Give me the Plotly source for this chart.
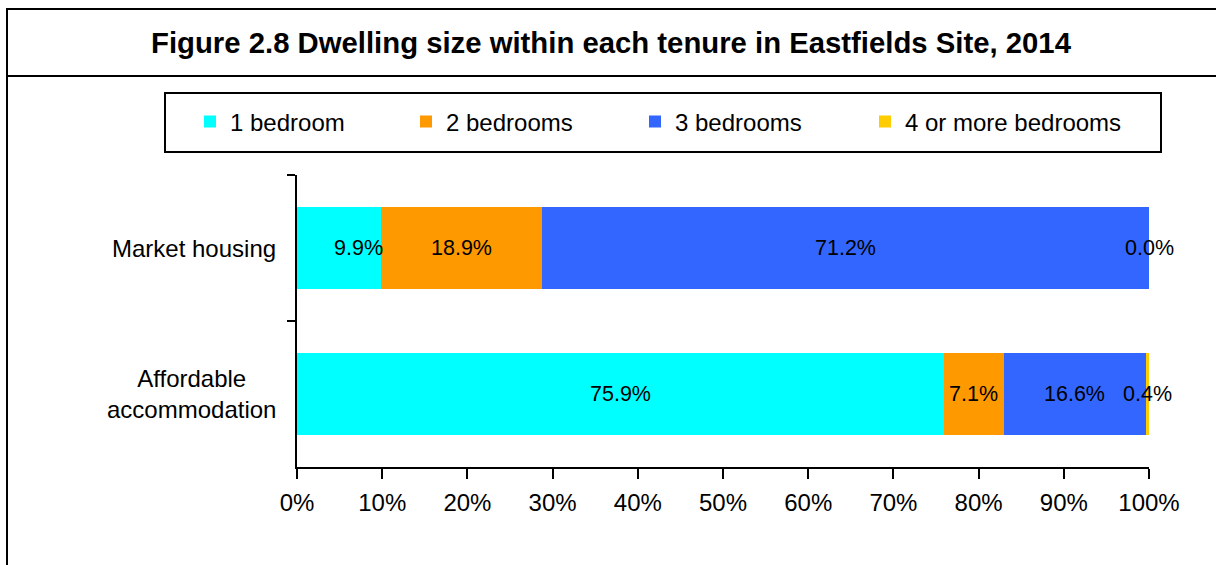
import plotly.graph_objects as go

categories = ["Market housing", "Affordable<br>accommodation"]
series_names = ["1 bedroom", "2 bedrooms", "3 bedrooms", "4 or more bedrooms"]
one_bed = [9.9, 75.9]
two_bed = [18.9, 7.1]
three_bed = [71.2, 16.6]
four_bed = [0.0, 0.4]
colors = ["#00FFFF", "#FF9900", "#3366FF", "#FFCC00"]
tick_vals = [0, 10, 20, 30, 40, 50, 60, 70, 80, 90, 100]
tick_text = ["0%", "10%", "20%", "30%", "40%", "50%", "60%", "70%", "80%", "90%", "100%"]
title_text = "Figure 2.8 Dwelling size within each tenure in Eastfields Site, 2014"

FONT = "Liberation Sans, Arial, sans-serif"
series = [one_bed, two_bed, three_bed, four_bed]

# plot area in pixels
L, R, T, B = 297, 1149, 175, 467
W, H = R - L, B - T
px = lambda x: (x - L) / W
py = lambda y: (B - y) / H

legend_ids = ["legend2", "legend3", "legend4", "legend5"]
legend_x = [190, 406, 635, 865]

fig = go.Figure()
for name, vals, col, lid in zip(series_names, series, colors, legend_ids):
    fig.add_trace(go.Bar(
        y=categories, x=vals, name=name, orientation="h",
        marker=dict(color=col, line=dict(width=0)),
        hoverinfo="x+name", legend=lid, showlegend=True,
    ))

annotations = []
# data labels
for ci, cat in enumerate(categories):
    cum = 0
    for si, vals in enumerate(series):
        v = vals[ci]
        center = cum + v / 2
        cum += v
        xshift = 0
        if si == 0 and v < 15:
            xshift = 19
        annotations.append(dict(
            x=center, y=cat, xref="x", yref="y", text=f"{v:.1f}%",
            showarrow=False, xshift=xshift,
            font=dict(family=FONT, size=21.5, color="#000000"),
        ))
# category labels
for cat in categories:
    annotations.append(dict(
        x=0, y=cat, xref="paper", yref="y", text=cat, showarrow=False,
        xanchor="right", align="center", xshift=-19,
        font=dict(family=FONT, size=24, color="#000000"),
    ))

shapes = [
    # outer frame
    dict(type="rect", xref="paper", yref="paper", x0=px(7), x1=px(1225), y0=py(575), y1=py(9),
         line=dict(color="#000000", width=2), fillcolor="rgba(0,0,0,0)", layer="below"),
    # title separator
    dict(type="line", xref="paper", yref="paper", x0=px(7), x1=px(1225), y0=py(76), y1=py(76),
         line=dict(color="#000000", width=2)),
    # legend box
    dict(type="rect", xref="paper", yref="paper", x0=px(165), x1=px(1161), y0=py(152), y1=py(93),
         line=dict(color="#000000", width=2), fillcolor="rgba(0,0,0,0)"),
]

legends = {}
for lid, lx in zip(legend_ids, legend_x):
    legends[lid] = dict(orientation="h", x=px(lx), xanchor="left", y=py(122), yanchor="middle",
                        font=dict(family=FONT, size=24, color="#000000"),
                        bgcolor="rgba(0,0,0,0)", borderwidth=0)

fig.update_layout(
    width=1216, height=565,
    margin=dict(l=L, r=1216 - R, t=T, b=565 - B, pad=0),
    paper_bgcolor="#FFFFFF", plot_bgcolor="#FFFFFF",
    barmode="stack", bargap=0.44, showlegend=True,
    font=dict(family=FONT, color="#000000"),
    title=dict(text="<b>" + title_text + "</b>", x=611 / 1216, xanchor="center",
               y=1 - 43 / 565, yanchor="middle",
               font=dict(family=FONT, size=29.3, color="#000000")),
    xaxis=dict(range=[0, 100], tickvals=tick_vals, ticktext=tick_text,
               showgrid=False, zeroline=False, showline=True, linecolor="#000000", linewidth=2,
               ticks="outside", ticklen=10, tickwidth=2, tickcolor="#000000",
               ticklabelstandoff=3,
               tickfont=dict(family=FONT, size=24, color="#000000"), fixedrange=True),
    yaxis=dict(autorange="reversed", showgrid=False, zeroline=False, showline=True,
               linecolor="#000000", linewidth=2, ticks="outside", ticklen=8, tickwidth=2,
               tickcolor="#000000", tickson="boundaries", showticklabels=False, fixedrange=True),
    annotations=annotations,
    shapes=shapes,
    **legends,
)

fig.write_html("out.html", config={"displayModeBar": False},
               post_script="document.body.style.margin='0';document.body.style.overflow='hidden';")
